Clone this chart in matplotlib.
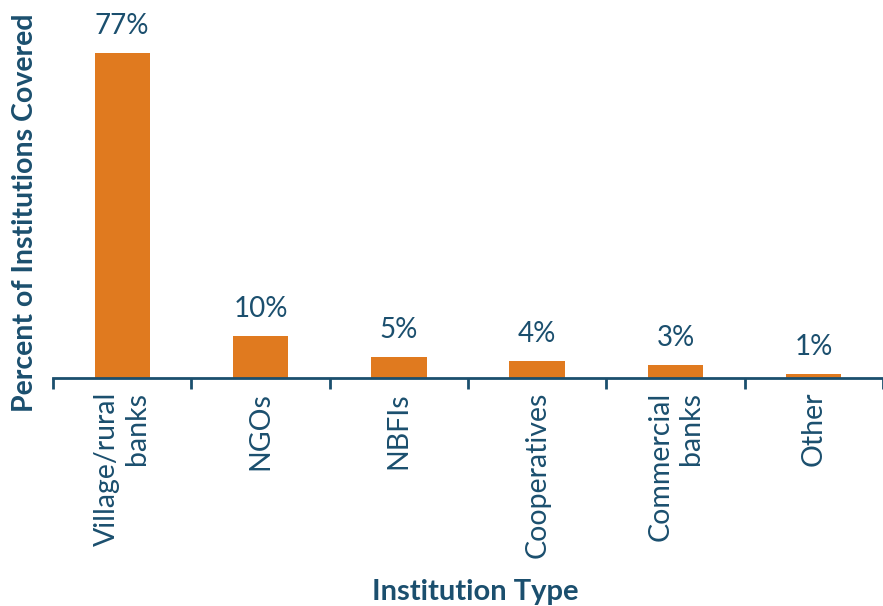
import matplotlib.pyplot as plt
import numpy as np

# --- Datos ---
categorias = ["Village/rural\nbanks", "NGOs", "NBFIs", "Cooperatives", "Commercial\nbanks", "Other"]
porcentajes = [77, 10, 5, 4, 3, 1]

naranja = "#E07A1F"
azul = "#1B4F6E"

plt.rcParams["font.family"] = ["Lato", "DejaVu Sans"]

fig = plt.figure(figsize=(8.83, 6.06), dpi=100)
ax = fig.add_axes([53 / 883, 1 - 378 / 606, 830 / 883, 378 / 606])

x = np.arange(len(categorias))
ax.bar(x, porcentajes, width=0.4, color=naranja)

for xi, v in zip(x, porcentajes):
    ax.text(xi, v + 3.3, f"{v}%", ha="center", va="bottom", fontsize=20, color=azul)

ax.set_xlim(-0.5, len(categorias) - 0.5)
ax.set_ylim(0, 89.6)

# solo eje inferior
for s in ["top", "right", "left"]:
    ax.spines[s].set_visible(False)
ax.spines["bottom"].set_color(azul)
ax.spines["bottom"].set_linewidth(2)
ax.set_yticks([])

ax.set_xticks(x)
ax.set_xticklabels(categorias, rotation=90, fontsize=20.5, color=azul, ma="right")
ax.tick_params(axis="x", which="major", length=0, pad=10)
ax.set_xticks(np.arange(-0.5, len(categorias), 1), minor=True)
ax.tick_params(axis="x", which="minor", length=8, width=2, color=azul)

fig.text(25 / 883, 1 - 213 / 606, "Percent of Institutions Covered", rotation=90,
         ha="center", va="center", fontsize=20.5, fontweight="bold", color=azul)
fig.text(475 / 883, 1 - 592 / 606, "Institution Type", ha="center", va="center",
         fontsize=21, fontweight="bold", color=azul)

fig.savefig("out.png", dpi=100)
